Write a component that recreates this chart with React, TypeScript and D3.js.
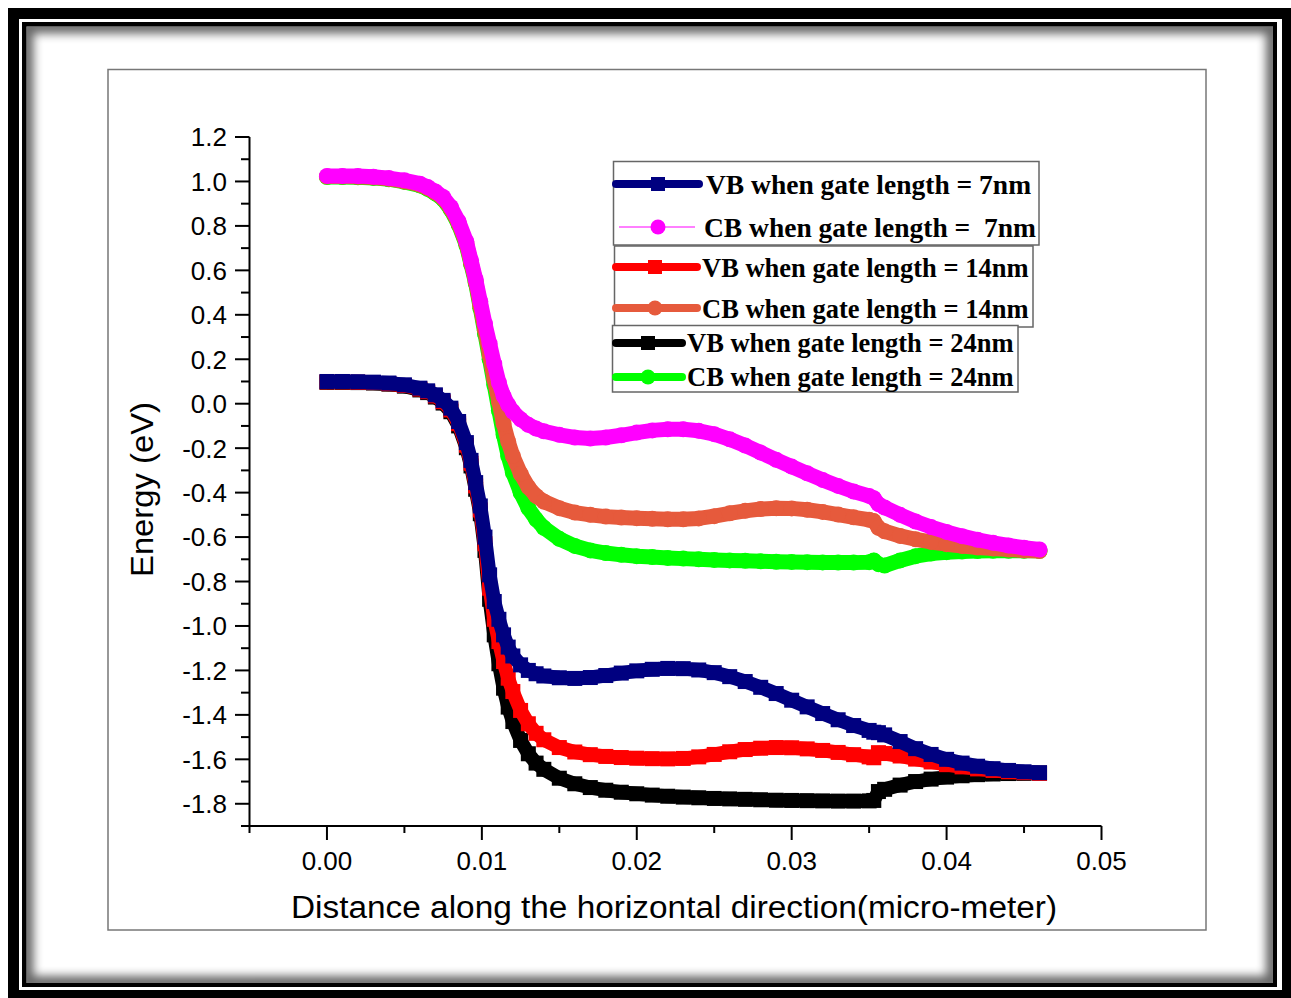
import React from 'react';
import * as d3 from 'd3';

const distance = [0, 0.001, 0.002, 0.003, 0.004, 0.005, 0.006, 0.0065, 0.007, 0.0075, 0.008, 0.0085, 0.009, 0.0093, 0.0096, 0.0099, 0.0102, 0.0105, 0.0108, 0.0111, 0.0114, 0.0117, 0.012, 0.0125, 0.013, 0.0135, 0.014, 0.015, 0.016, 0.017, 0.018, 0.019, 0.020, 0.021, 0.022, 0.023, 0.024, 0.025, 0.026, 0.027, 0.028, 0.029, 0.030, 0.031, 0.032, 0.033, 0.034, 0.035, 0.0353, 0.0356, 0.036, 0.037, 0.038, 0.039, 0.040, 0.041, 0.042, 0.043, 0.044, 0.045, 0.046];

const cb7 = [1.025, 1.025, 1.024, 1.021, 1.015, 1.005, 0.99, 0.975, 0.955, 0.93, 0.885, 0.82, 0.73, 0.645, 0.56, 0.46, 0.36, 0.27, 0.18, 0.095, 0.035, -0.005, -0.035, -0.07, -0.095, -0.112, -0.124, -0.14, -0.152, -0.157, -0.152, -0.142, -0.13, -0.12, -0.115, -0.115, -0.122, -0.137, -0.16, -0.188, -0.22, -0.252, -0.283, -0.313, -0.343, -0.37, -0.395, -0.415, -0.425, -0.452, -0.467, -0.5, -0.53, -0.555, -0.577, -0.596, -0.612, -0.626, -0.638, -0.648, -0.656];

const cb14 = [1.022, 1.022, 1.021, 1.018, 1.012, 1.0, 0.985, 0.97, 0.95, 0.924, 0.878, 0.812, 0.72, 0.635, 0.55, 0.44, 0.33, 0.22, 0.11, 0.01, -0.09, -0.17, -0.235, -0.315, -0.375, -0.415, -0.44, -0.47, -0.49, -0.5, -0.508, -0.512, -0.515, -0.518, -0.52, -0.52, -0.516, -0.506, -0.493, -0.482, -0.474, -0.47, -0.471, -0.477, -0.487, -0.499, -0.511, -0.522, -0.528, -0.558, -0.574, -0.595, -0.61, -0.622, -0.632, -0.64, -0.647, -0.652, -0.656, -0.66, -0.663];

const cb24 = [1.02, 1.02, 1.019, 1.016, 1.01, 0.998, 0.982, 0.967, 0.946, 0.92, 0.873, 0.806, 0.713, 0.628, 0.543, 0.43, 0.315, 0.2, 0.085, -0.03, -0.14, -0.235, -0.31, -0.4, -0.47, -0.52, -0.558, -0.608, -0.64, -0.66, -0.672, -0.68, -0.686, -0.69, -0.694, -0.697, -0.7, -0.703, -0.705, -0.707, -0.709, -0.711, -0.712, -0.713, -0.714, -0.715, -0.715, -0.713, -0.705, -0.722, -0.728, -0.705, -0.686, -0.674, -0.668, -0.665, -0.663, -0.662, -0.662, -0.662, -0.662];

const vb7 = [0.1, 0.1, 0.099, 0.097, 0.093, 0.085, 0.07, 0.058, 0.04, 0.015, -0.02, -0.08, -0.175, -0.255, -0.355, -0.46, -0.6, -0.77, -0.89, -0.97, -1.04, -1.095, -1.135, -1.175, -1.2, -1.215, -1.225, -1.233, -1.236, -1.232, -1.223, -1.212, -1.202, -1.195, -1.191, -1.192, -1.198, -1.21, -1.228, -1.25, -1.276, -1.304, -1.334, -1.364, -1.394, -1.422, -1.448, -1.47, -1.478, -1.48, -1.49, -1.52, -1.552, -1.578, -1.6, -1.617, -1.631, -1.642, -1.65, -1.656, -1.66];

const vb14 = [0.098, 0.098, 0.097, 0.095, 0.09, 0.082, 0.066, 0.054, 0.035, 0.009, -0.028, -0.09, -0.187, -0.268, -0.37, -0.478, -0.63, -0.83, -0.97, -1.07, -1.16, -1.235, -1.295, -1.38, -1.44, -1.483, -1.512, -1.547, -1.567, -1.579, -1.587, -1.592, -1.595, -1.597, -1.598, -1.596, -1.589, -1.578, -1.566, -1.556, -1.55, -1.547, -1.548, -1.553, -1.56, -1.569, -1.579, -1.589, -1.593, -1.57, -1.574, -1.585, -1.599, -1.612, -1.624, -1.634, -1.643, -1.65, -1.656, -1.66, -1.663];

const vb24 = [0.096, 0.096, 0.095, 0.093, 0.088, 0.079, 0.062, 0.05, 0.03, 0.003, -0.036, -0.1, -0.198, -0.28, -0.385, -0.495, -0.66, -0.88, -1.04, -1.17, -1.28, -1.365, -1.43, -1.515, -1.575, -1.617, -1.645, -1.685, -1.71, -1.727, -1.739, -1.748, -1.755, -1.761, -1.766, -1.77, -1.773, -1.776, -1.778, -1.78, -1.782, -1.784, -1.785, -1.786, -1.787, -1.788, -1.788, -1.787, -1.785, -1.745, -1.735, -1.716, -1.7, -1.689, -1.68, -1.674, -1.669, -1.666, -1.664, -1.663, -1.662];

const xTicks = [0, 0.01, 0.02, 0.03, 0.04, 0.05];
const xMinorTicks = [-0.005, 0.005, 0.015, 0.025, 0.035, 0.045];
const yTicks = [-1.8, -1.6, -1.4, -1.2, -1.0, -0.8, -0.6, -0.4, -0.2, 0.0, 0.2, 0.4, 0.6, 0.8, 1.0, 1.2];
const yMinorTicks = [-1.9, -1.7, -1.5, -1.3, -1.1, -0.9, -0.7, -0.5, -0.3, -0.1, 0.1, 0.3, 0.5, 0.7, 0.9, 1.1];

const legendLabels = [
  'VB when gate length = 7nm',
  'CB when gate length =  7nm',
  'VB when gate length = 14nm',
  'CB when gate length = 14nm',
  'VB when gate length = 24nm',
  'CB when gate length = 24nm',
];

const NAVY = '#000080';
const MAGENTA = '#FF00FF';
const RED = '#FF0000';
const ORANGE = '#E65A3C';
const BLACK = '#000000';
const GREEN = '#00FF00';

type Series = { values: number[]; color: string; marker: 'square' | 'circle'; width: number };

// drawn bottom-to-top
const series: Series[] = [
  { values: cb24, color: GREEN, marker: 'circle', width: 15 },
  { values: vb24, color: BLACK, marker: 'square', width: 14 },
  { values: cb14, color: ORANGE, marker: 'circle', width: 15 },
  { values: vb14, color: RED, marker: 'square', width: 14 },
  { values: cb7, color: MAGENTA, marker: 'circle', width: 15 },
  { values: vb7, color: NAVY, marker: 'square', width: 14 },
];

const W = 1291;
const H = 998;

const fmtY = (t: number) => d3.format('.1f')(t).replace('\u2212', '-');
const fmtX = (t: number) => d3.format('.2f')(t).replace('\u2212', '-');

export default function App() {
  const x = d3.scaleLinear().domain([-0.005, 0.05]).range([249.5, 1101.5]);
  const y = d3.scaleLinear().domain([-1.9, 1.2]).range([826, 137]);
  const sans = '"Liberation Sans", Arial, sans-serif';
  const serif = '"Liberation Serif", "Times New Roman", serif';

  const lineGen = (vals: number[]) =>
    d3.line<number>().x((_, i) => x(distance[i])).y((d) => y(d)).curve(d3.curveLinear)(vals) || '';

  const legendRows = [
    { color: NAVY, marker: 'square', thin: false, lx0: 616, lx1: 699, mx: 658, ly: 184, tx: 706, ty: 194, fs: 27.5 },
    { color: MAGENTA, marker: 'circle', thin: true, lx0: 619, lx1: 695, mx: 658, ly: 227, tx: 704, ty: 237, fs: 27.5 },
    { color: RED, marker: 'square', thin: false, lx0: 616, lx1: 697, mx: 655, ly: 267, tx: 702, ty: 277, fs: 26.5 },
    { color: ORANGE, marker: 'circle', thin: false, lx0: 616, lx1: 697, mx: 655, ly: 308, tx: 702, ty: 318, fs: 26.5 },
    { color: BLACK, marker: 'square', thin: false, lx0: 616, lx1: 682, mx: 648, ly: 343, tx: 687, ty: 352, fs: 26.5 },
    { color: GREEN, marker: 'circle', thin: false, lx0: 616, lx1: 682, mx: 648, ly: 377, tx: 687, ty: 386, fs: 26.5 },
  ];

  return (
    <svg width={W} height={H} style={{ position: 'absolute', left: 0, top: 0, display: 'block' }}>
      <defs>
        <clipPath id="inner">
          <rect x={26.5} y={26.5} width={1246.5} height={956.5} />
        </clipPath>
        <filter id="blur" x="-10%" y="-10%" width="120%" height="120%">
          <feGaussianBlur stdDeviation={5} />
        </filter>
      </defs>
      <rect x={0} y={0} width={W} height={H} fill="#ffffff" />
      {/* decorative frame */}
      <rect x={8} y={8} width={1283} height={990} fill="#000" />
      <rect x={19} y={19} width={1263} height={971} fill="#fff" />
      <rect x={22} y={22} width={1255} height={965} fill="#000" />
      <rect x={26.5} y={26.5} width={1246.5} height={956.5} fill="#fff" />
      <g clipPath="url(#inner)">
        <rect x={26.5} y={26.5} width={1246.5} height={956.5} fill="none" stroke="#000" strokeWidth={14} opacity={0.6} filter="url(#blur)" />
      </g>
      {/* plot area frame */}
      <rect x={108} y={69.5} width={1098} height={860.5} fill="none" stroke="#777" strokeWidth={1.5} />

      {/* series */}
      {series.map((s, si) => (
        <g key={si}>
          <path d={lineGen(s.values)} fill="none" stroke={s.color} strokeWidth={s.width} strokeLinejoin="round" />
          {s.values.map((v, i) =>
            s.marker === 'square' ? (
              <rect key={i} x={x(distance[i]) - 7.5} y={y(v) - 7.5} width={15} height={15} fill={s.color} />
            ) : (
              <circle key={i} cx={x(distance[i])} cy={y(v)} r={8} fill={s.color} />
            )
          )}
        </g>
      ))}

      {/* axes */}
      <line x1={249.5} x2={1101.5} y1={826} y2={826} stroke="#000" strokeWidth={2} />
      <line x1={249.5} x2={249.5} y1={137} y2={826} stroke="#000" strokeWidth={2} />
      {xTicks.map((t) => (
        <g key={'xt' + t}>
          <line x1={x(t)} x2={x(t)} y1={826} y2={840} stroke="#000" strokeWidth={2} />
          <text x={x(t)} y={870} textAnchor="middle" fontFamily={sans} fontSize={26} fill="#000">
            {fmtX(t)}
          </text>
        </g>
      ))}
      {xMinorTicks.map((t) => (
        <line key={'xm' + t} x1={x(t)} x2={x(t)} y1={826} y2={833} stroke="#000" strokeWidth={2} />
      ))}
      {yTicks.map((t) => (
        <g key={'yt' + t}>
          <line x1={235} x2={249.5} y1={y(t)} y2={y(t)} stroke="#000" strokeWidth={2} />
          <text x={227} y={y(t)} dy="0.36em" textAnchor="end" fontFamily={sans} fontSize={26} fill="#000">
            {fmtY(t)}
          </text>
        </g>
      ))}
      {yMinorTicks.map((t) => (
        <line key={'ym' + t} x1={241} x2={249.5} y1={y(t)} y2={y(t)} stroke="#000" strokeWidth={2} />
      ))}

      {/* axis titles */}
      <text x={674} y={918} textAnchor="middle" fontFamily={sans} fontSize={31} textLength={766} lengthAdjust="spacingAndGlyphs" fill="#000">
        Distance along the horizontal direction(micro-meter)
      </text>
      <text transform="translate(153,489.5) rotate(-90)" textAnchor="middle" fontFamily={sans} fontSize={31} textLength={175} lengthAdjust="spacingAndGlyphs" fill="#000">
        Energy (eV)
      </text>

      {/* legend boxes */}
      <rect x={613.5} y={161.5} width={425.5} height={83.5} fill="#fff" stroke="#666" strokeWidth={1.5} />
      <rect x={614.5} y={246} width={418.5} height={81} fill="#fff" stroke="#666" strokeWidth={1.5} />
      <rect x={612.5} y={325.5} width={405.5} height={66.5} fill="#fff" stroke="#666" strokeWidth={1.5} />
      {legendRows.map((r, i) => (
        <g key={'lg' + i}>
          <line x1={r.lx0} x2={r.lx1} y1={r.ly} y2={r.ly} stroke={r.color} strokeWidth={r.thin ? 1 : 8} strokeLinecap={r.thin ? 'butt' : 'round'} />
          {r.marker === 'square' ? (
            <rect x={r.mx - 7} y={r.ly - 7} width={14} height={14} fill={r.color} />
          ) : (
            <circle cx={r.mx} cy={r.ly} r={7.5} fill={r.color} />
          )}
          <text x={r.tx} y={r.ty} fontFamily={serif} fontWeight="bold" fontSize={r.fs} fill="#000" style={{ whiteSpace: 'pre' }}>
            {legendLabels[i]}
          </text>
        </g>
      ))}
    </svg>
  );
}
